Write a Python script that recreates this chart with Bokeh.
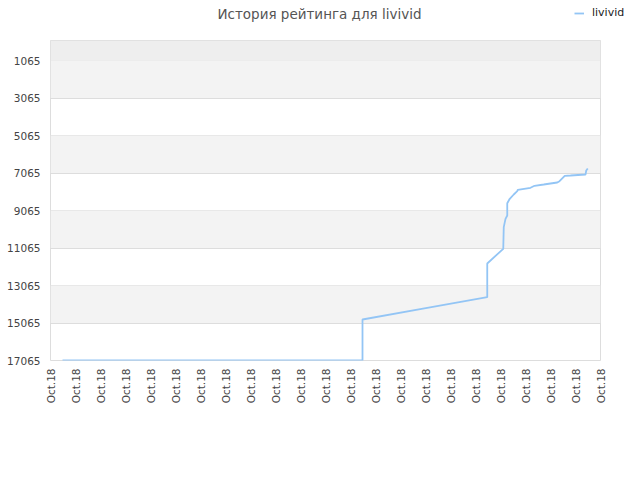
from math import pi
from bokeh.plotting import figure
from bokeh.layouts import column
from bokeh.models import (Range1d, FixedTicker, BoxAnnotation, Legend, LegendItem, Label)
from bokeh.embed import file_html
from bokeh.resources import INLINE

# ---- data ----
title_text = "История рейтинга для livivid"
series_name = "livivid"
tick_positions = list(range(23))
tick_labels = ["Oct.18"] * 23
y_ticks = [1065, 3065, 5065, 7065, 9065, 11065, 13065, 15065, 17065]

x_vals = [0.48, 12.48, 12.48, 14.9, 17.47, 17.47, 18.11, 18.13, 18.2, 18.27, 18.27,
          18.37, 18.53, 18.67, 18.69, 19.2, 19.36, 19.73, 20.27, 20.36, 20.57,
          20.8, 21.4, 21.43, 21.49]
ranks = [17065, 17065, 14878, 14300, 13689, 11891, 11107, 9955, 9508, 9332, 8675,
         8441, 8212, 8035, 7961, 7854, 7748, 7678, 7572, 7502, 7214,
         7198, 7145, 6932, 6825]

FONT = "DejaVu Sans"
LINE_COLOR = "#93c5f5"
W = 632

# ---- header (title + legend) ----
header = figure(width=W, height=40, output_backend="svg", toolbar_location=None,
                x_range=Range1d(0, W), y_range=Range1d(40, 0),
                x_axis_type=None, y_axis_type=None, min_border=0)
try:
    header.frame_align = False
except Exception:
    pass
header.outline_line_color = None
header.grid.visible = False
header.background_fill_color = "white"
header.border_fill_color = "white"
header.add_layout(Label(x=319, y=13, text=title_text, text_align="center",
                        text_baseline="middle", text_font=FONT,
                        text_font_size="13.5px", text_color="#555555"))
# legend sample renderer: same series, lies outside this header's ranges (not visible)
legend_r = header.line(x_vals, ranks, line_color=LINE_COLOR, line_width=1.8)
legend = Legend(items=[LegendItem(label=series_name, renderers=[legend_r])],
                location=(574, 21), orientation="horizontal",
                border_line_color=None, background_fill_alpha=0,
                label_text_font=FONT, label_text_font_size="11px",
                label_text_color="#222222", glyph_width=10, glyph_height=12,
                label_height=12, padding=0, margin=0, label_standoff=8)
header.add_layout(legend, "center")

# ---- main plot ----
p = figure(width=W, height=432, output_backend="svg", toolbar_location=None,
           x_range=Range1d(0, 22), y_range=Range1d(17065, -2),
           min_border_left=50, min_border_right=32, min_border_top=0,
           min_border_bottom=112)
try:
    p.frame_align = False
except Exception:
    pass
p.background_fill_color = "white"
p.border_fill_color = "white"
p.outline_line_color = "#dddddd"

band_edges = [-2] + y_ticks
for i in range(len(band_edges) - 1):
    top, bottom = band_edges[i], band_edges[i + 1]
    if i == 0:
        col = "#eeeeee"
    elif i % 2 == 1:
        col = "#f3f3f3"
    else:
        col = None
    if col:
        p.add_layout(BoxAnnotation(bottom=bottom, top=top, fill_color=col,
                                   fill_alpha=1, line_color=None, level="underlay"))

p.xgrid.visible = False
p.ygrid.ticker = FixedTicker(ticks=y_ticks)
p.ygrid.grid_line_color = "#dddddd"
p.ygrid.grid_line_width = 1

p.line(x_vals, ranks, line_color=LINE_COLOR, line_width=1.8)

p.yaxis.ticker = FixedTicker(ticks=y_ticks)
p.xaxis.ticker = FixedTicker(ticks=tick_positions)
p.xaxis.major_label_overrides = {t: l for t, l in zip(tick_positions, tick_labels)}
p.xaxis.major_label_orientation = pi / 2
for ax in (p.xaxis[0], p.yaxis[0]):
    ax.axis_line_color = None
    ax.major_tick_line_color = None
    ax.minor_tick_line_color = None
    ax.major_tick_out = 0
    ax.major_tick_in = 0
    ax.minor_tick_out = 0
    ax.major_label_text_font = FONT
    ax.major_label_text_font_size = "10.5px"
    ax.major_label_text_color = "#444444"
p.xaxis.major_label_standoff = 8
p.yaxis.major_label_standoff = 10

layout = column(header, p, spacing=0)
open("out.html", "w").write(file_html(layout, INLINE))
